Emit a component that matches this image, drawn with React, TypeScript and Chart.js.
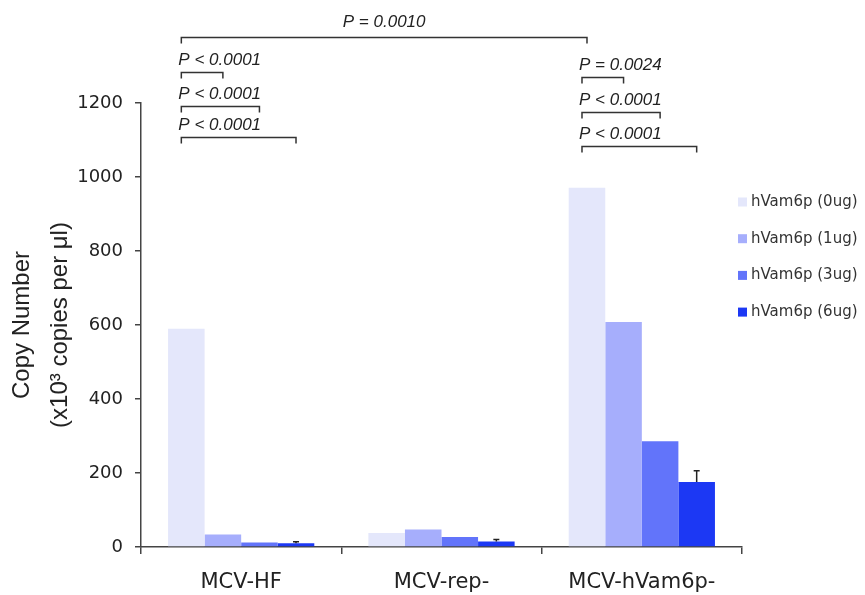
import React, { useEffect, useRef } from "react";
import { Chart, registerables } from "chart.js";

Chart.register(...registerables);

// ---- data ----
const categories = ["MCV-HF", "MCV-rep-", "MCV-hVam6p-"];
const seriesLabels = ["hVam6p (0ug)", "hVam6p (1ug)", "hVam6p (3ug)", "hVam6p (6ug)"];
const dose0 = [590, 38, 971];
const dose1 = [34, 47, 608];
const dose3 = [12, 27, 286];
const dose6 = [10, 15, 176];
const dose6Err = [4, 5, 30];
const yMin = 0;
const yMax = 1200;
const yStep = 200;
const yTitle = ["Copy Number", "(x10\u00B3 copies per \u03BCl)"];

// significance brackets: endpoints as [category, series], level in y units
const bracketLabels = ["P = 0.0010", "P < 0.0001", "P < 0.0001", "P < 0.0001", "P = 0.0024", "P < 0.0001", "P < 0.0001"];
const bracketFrom = [[0, 0], [0, 0], [0, 0], [0, 0], [2, 0], [2, 0], [2, 0]];
const bracketTo = [[2, 0], [0, 1], [0, 2], [0, 3], [2, 1], [2, 2], [2, 3]];
const bracketLevel = [1378, 1283, 1191, 1107, 1270, 1175, 1083];

const colors = ["#e4e7fb", "#a6aefc", "#6274fa", "#1c38f4"];

const errorBarPlugin = {
  id: "errorBars",
  afterDatasetsDraw(chart: any) {
    const ctx = chart.ctx;
    const y = chart.scales.y;
    const meta = chart.getDatasetMeta(3);
    ctx.save();
    ctx.strokeStyle = "#222";
    ctx.lineWidth = 1.5;
    meta.data.forEach((el: any, i: number) => {
      const top = y.getPixelForValue(dose6[i] + dose6Err[i]);
      ctx.beginPath();
      ctx.moveTo(el.x, el.y);
      ctx.lineTo(el.x, top);
      ctx.moveTo(el.x - 3, top);
      ctx.lineTo(el.x + 3, top);
      ctx.stroke();
    });
    ctx.restore();
  },
};

const annotationPlugin = {
  id: "annotations",
  afterDraw(chart: any) {
    const ctx = chart.ctx;
    const y = chart.scales.y;
    ctx.save();
    // brackets
    ctx.strokeStyle = "#333";
    ctx.lineWidth = 1.5;
    ctx.fillStyle = "#222";
    ctx.font = "italic 17px 'Liberation Sans', Arial, sans-serif";
    bracketLabels.forEach((label, i) => {
      const a = chart.getDatasetMeta(bracketFrom[i][1]).data[bracketFrom[i][0]];
      const b = chart.getDatasetMeta(bracketTo[i][1]).data[bracketTo[i][0]];
      const x1 = a.x - 5;
      const x2 = b.x;
      const py = Math.round(y.getPixelForValue(bracketLevel[i])) + 0.5;
      ctx.beginPath();
      ctx.moveTo(x1, py + 6);
      ctx.lineTo(x1, py);
      ctx.lineTo(x2, py);
      ctx.lineTo(x2, py + 6);
      ctx.stroke();
      ctx.textBaseline = "alphabetic";
      if (bracketFrom[i][0] !== bracketTo[i][0]) {
        ctx.textAlign = "center";
        ctx.fillText(label, (x1 + x2) / 2, py - 11);
      } else {
        ctx.textAlign = "left";
        ctx.fillText(label, x1 - 3, py - 8);
      }
    });
    // legend
    ctx.font = "15px 'DejaVu Sans', sans-serif";
    ctx.textAlign = "left";
    ctx.textBaseline = "middle";
    chart.data.datasets.forEach((ds: any, i: number) => {
      const cy = 202 + i * 36.7;
      ctx.fillStyle = ds.backgroundColor;
      ctx.fillRect(738, cy - 4.5, 9, 9);
      ctx.fillStyle = "#333";
      ctx.fillText(ds.label, 751, cy);
    });
    ctx.restore();
  },
};

export default function App() {
  const ref = useRef<HTMLCanvasElement | null>(null);

  useEffect(() => {
    document.body.style.margin = "0";
    const canvas = ref.current;
    if (!canvas) return;
    const series = [dose0, dose1, dose3, dose6];
    const chart = new Chart(canvas, {
      type: "bar",
      data: {
        labels: categories,
        datasets: series.map((d, i) => ({
          label: seriesLabels[i],
          data: d,
          backgroundColor: colors[i],
          borderWidth: 0,
          categoryPercentage: 0.73,
          barPercentage: 1.0,
        })),
      },
      options: {
        responsive: false,
        animation: false,
        layout: { padding: { top: 103, right: 123, left: 0, bottom: 0 } },
        plugins: {
          legend: { display: false },
          tooltip: { enabled: false },
        },
        scales: {
          x: {
            afterFit(scale: any) {
              scale.height = 48;
            },
            grid: {
              display: true,
              drawOnChartArea: false,
              drawTicks: true,
              tickLength: 7,
              color: "#444",
              lineWidth: 1.5,
              offset: true,
            },
            border: { color: "#444", width: 1.5 },
            ticks: {
              color: "#222",
              padding: 16,
              font: { family: "'DejaVu Sans', sans-serif", size: 21 },
            },
          },
          y: {
            min: yMin,
            max: yMax,
            afterFit(scale: any) {
              scale.width = 141;
            },
            grid: {
              display: true,
              drawOnChartArea: false,
              drawTicks: true,
              tickLength: 6,
              color: "#444",
              lineWidth: 1.5,
            },
            border: { color: "#444", width: 1.5 },
            ticks: {
              stepSize: yStep,
              color: "#222",
              padding: 12,
              font: { family: "'DejaVu Sans', sans-serif", size: 18 },
              callback: (v: any) => String(v),
            },
            title: {
              display: true,
              text: yTitle,
              color: "#222",
              padding: { top: 3, bottom: 0 },
              font: { family: "'Liberation Sans', Arial, sans-serif", size: 24, lineHeight: 1.58 },
            },
          },
        },
      },
      plugins: [errorBarPlugin, annotationPlugin],
    });
    return () => chart.destroy();
  }, []);

  return (
    <div style={{ width: 865, height: 595, background: "#fff" }}>
      <canvas ref={ref} width={865} height={595} style={{ display: "block" }} />
    </div>
  );
}
